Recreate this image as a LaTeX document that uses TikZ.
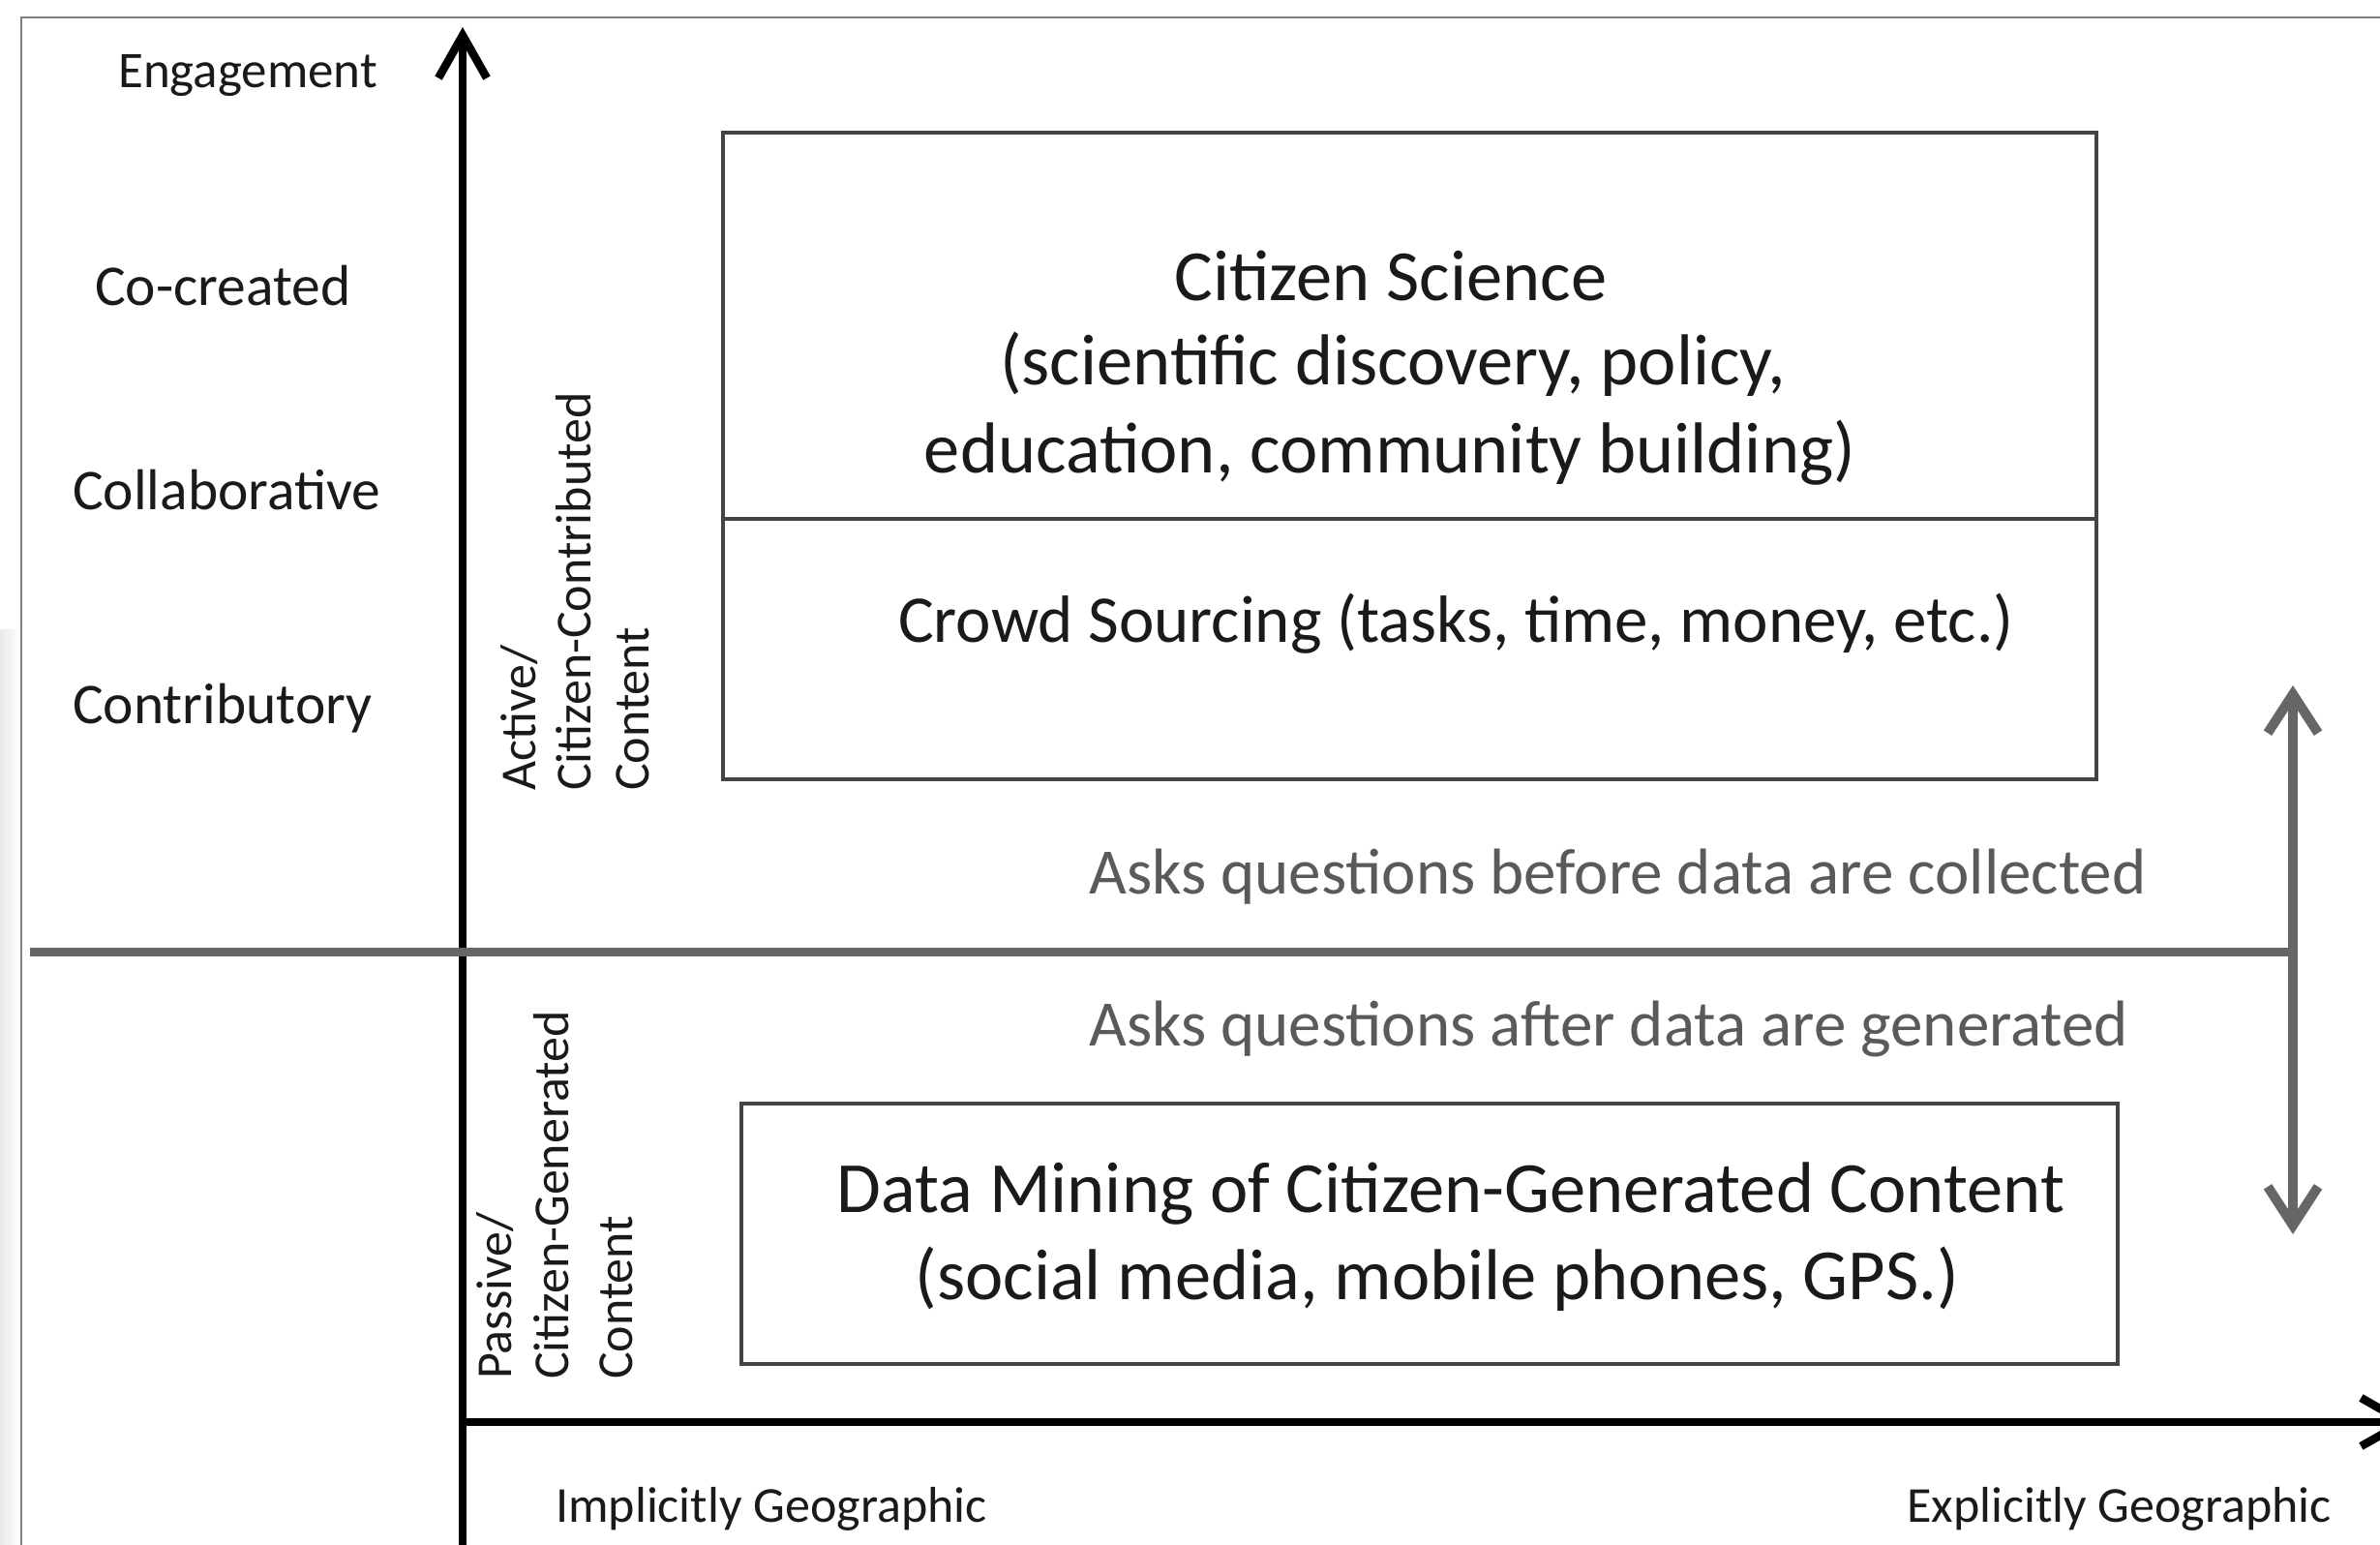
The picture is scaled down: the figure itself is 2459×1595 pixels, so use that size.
\documentclass[tikz,border=0pt]{standalone}
\usepackage{fontspec}
\setmainfont{Carlito}
\usetikzlibrary{arrows.meta}
\definecolor{txt}{HTML}{1A1A1A}
\definecolor{asks}{HTML}{5A5A5A}
\definecolor{boxline}{HTML}{444444}
\definecolor{midgray}{HTML}{666666}
\definecolor{framegray}{HTML}{808080}
\tikzset{
  lbl/.style={font=\fontsize{59.5}{66}\selectfont, text=txt, inner sep=0pt, anchor=base west},
  big/.style={font=\fontsize{74.5}{82}\selectfont, text=txt, inner sep=0pt, anchor=base},
  mid/.style={font=\fontsize{69}{76}\selectfont, text=txt, inner sep=0pt, anchor=base west},
  askstxt/.style={font=\fontsize{67}{74}\selectfont, text=asks, inner sep=0pt, anchor=base west},
  geo/.style={font=\fontsize{52}{60}\selectfont, text=txt, inner sep=0pt, anchor=base west},
  rot/.style={font=\fontsize{52}{60}\selectfont, text=txt, inner sep=0pt, anchor=base west, rotate=90},
  boxstyle/.style={draw=boxline, line width=4pt, inner sep=0pt, anchor=north west},
  blackaxis/.style={draw=black, line width=8.5pt, -{Straight Barb[length=44pt,width=50pt]}},
  grayline/.style={draw=midgray, line width=9pt},
  grayarrow/.style={draw=midgray, line width=10pt, {Straight Barb[length=40pt,width=52pt]}-{Straight Barb[length=40pt,width=52pt]}}
}
\begin{document}
\begin{tikzpicture}[x=1pt,y=-1pt]
\clip (0,0) rectangle (2459,1595);
\fill[white] (0,0) rectangle (2459,1595);
\shade[left color=black!9, right color=white] (0,650) rectangle (20,1595);
% frame
\draw[framegray, line width=2.5pt] (2470,18) -- (22,18) -- (22,1600);

% boxes
\node[boxstyle, minimum width=1419pt, minimum height=668pt] (cs) at (745,135) {};
\draw[boxline, line width=4.5pt] (cs.west |- 0,536) coordinate (dl) -- (cs.east |- 0,536) coordinate (dr);
\node[boxstyle, minimum width=1422pt, minimum height=269pt] (dm) at (764,1138) {};

% axes
\coordinate (O) at (478,1469);
\coordinate (ybot) at (478,1610);
\coordinate (ytop) at (478,28);
\coordinate (xend) at (2492,1469);
\draw[blackaxis] (ybot) -- (ytop);
\draw[blackaxis] (O) -- (xend);

% gray divider and double arrow
\coordinate (gl) at (31,983);
\coordinate (gr) at (2369,983);
\coordinate (atop) at (2369,708);
\coordinate (abot) at (2369,1275);
\draw[grayline] (gl) -- (gr);
\draw[grayarrow] (abot) -- (atop);

% left labels
\node[lbl, font=\fontsize{53}{60}\selectfont] (eng) at (122,90) {Engagement};
\node[lbl] (cocr) at (98,315) {Co-created};
\node[lbl] (coll) at (75,526) {Collaborative};
\node[lbl] (contr) at (75,747) {Contributory};

% citizen science
\node[big] (cs1) at (1437,310) {Citizen Science};
\node[big] (cs2) at (1439,397) {(scientific discovery, policy,};
\node[big] (cs3) at (1436,488) {education, community building)};
\node[mid] (crowd) at (928,663) {Crowd Sourcing (tasks, time, money, etc.)};

% asks
\node[askstxt] (ask1) at (1125,923) {Asks questions before data are collected};
\node[askstxt] (ask2) at (1125,1080) {Asks questions after data are generated};

% data mining
\node[big] (dm1) at (1499,1252) {Data Mining of Citizen-Generated Content};
\node[big] (dm2) at (1485,1342) {(social media, mobile phones, GPS.)};

% rotated
\node[rot] (act1) at (553,817) {Active/};
\node[rot] (act2) at (610,817) {Citizen-Contributed};
\node[rot] (act3) at (670,817) {Content};
\node[rot] (pas1) at (528,1425) {Passive/};
\node[rot] (pas2) at (587,1425) {Citizen-Generated};
\node[rot] (pas3) at (653,1425) {Content};

% geographic
\node[geo] (impl) at (574,1572) {Implicitly Geographic};
\node[geo] (expl) at (1970,1572) {Explicitly Geographic};
\end{tikzpicture}
\end{document}
